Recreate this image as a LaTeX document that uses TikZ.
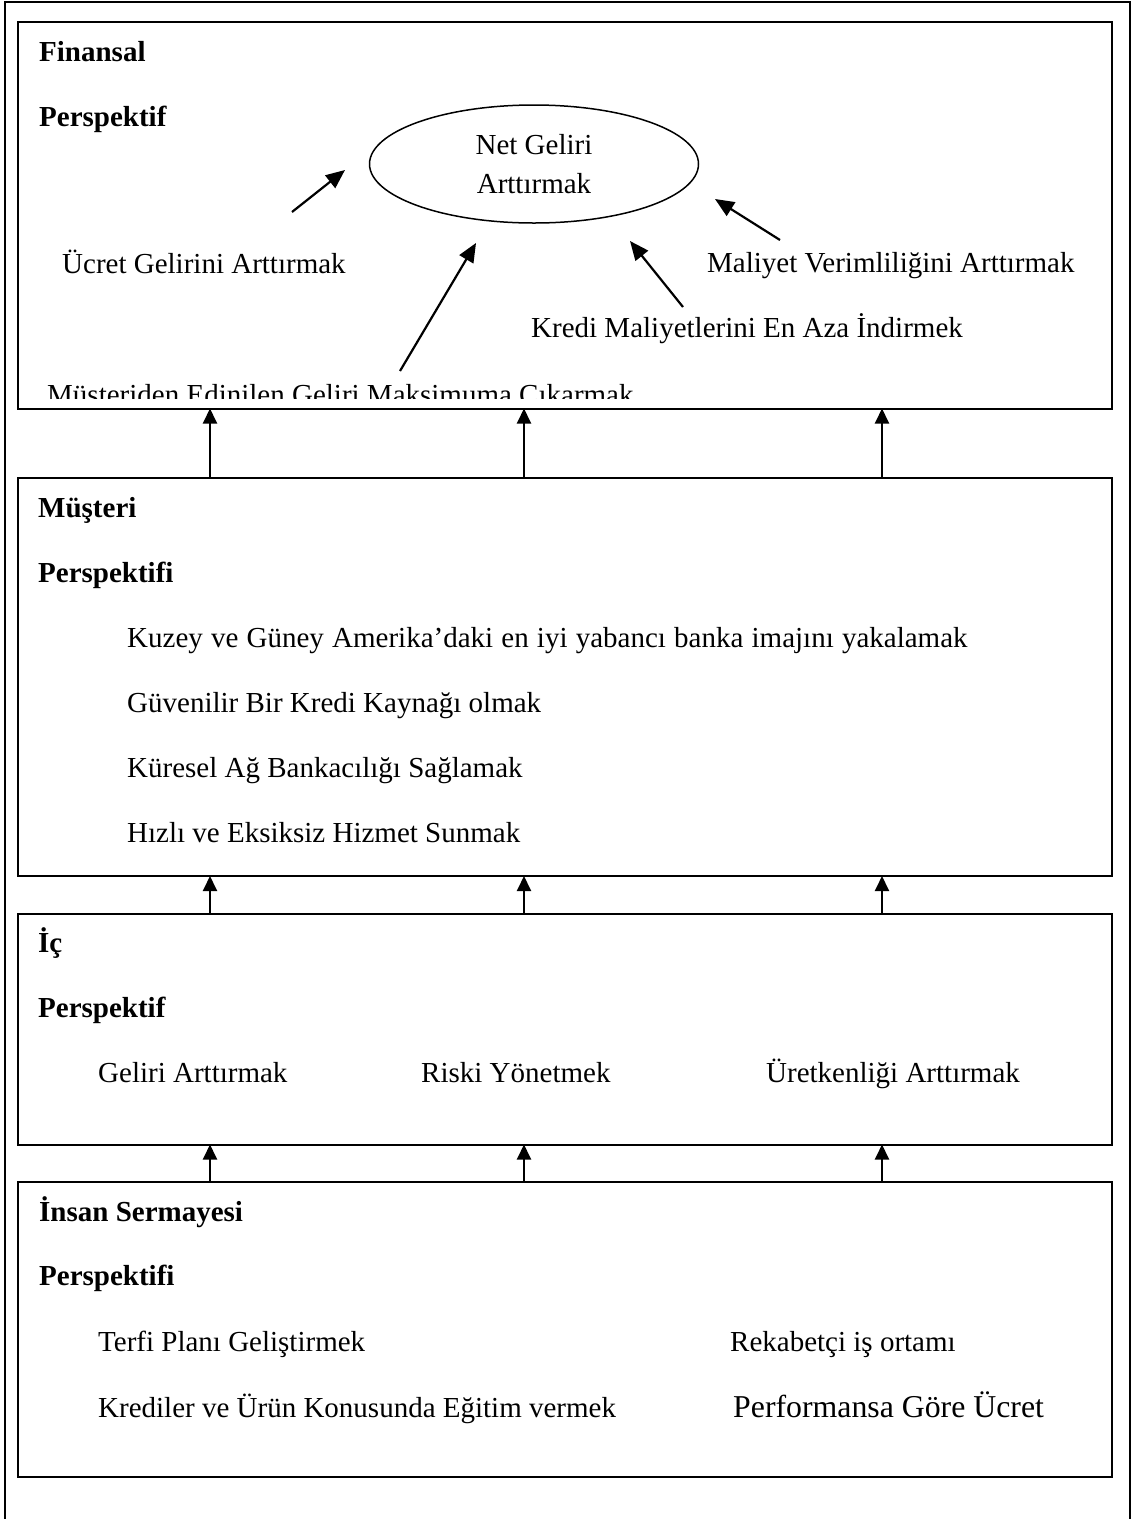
\documentclass[tikz,border=0pt]{standalone}
\usepackage{fontspec}
\setmainfont{Liberation Serif}
\usetikzlibrary{arrows.meta,shapes.geometric}
\begin{document}
\begin{tikzpicture}[x=1pt,y=-1pt,
  panel/.style={draw, line width=2pt, rectangle, inner sep=0pt, outer sep=0pt,
                anchor=north west, minimum width=1094pt},
  lbl/.style={anchor=base west, inner sep=0pt, font=\fontsize{29}{39}\selectfont},
  head/.style={anchor=base west, inner sep=0pt, font=\fontsize{29}{39}\selectfont\bfseries},
  up/.style={-{Triangle[length=15pt,width=14pt]}, line width=2pt},
  diag/.style={-{Triangle[length=19pt,width=16pt]}, line width=2.2pt},
  goal/.style={draw, ellipse, line width=1.5pt, minimum width=329pt, minimum height=118pt,
               inner sep=0pt, align=center, font=\fontsize{29}{39}\selectfont}]
\clip (0,0) rectangle (1133,1519);

% outer frame (runs past the lower edge)
\draw[line width=2pt] (5,1540) -- (5,2) -- (1130,2) -- (1130,1540);

% the four perspective panels
\node[panel, minimum height=386.5pt] (fin) at (18,22) {};
\node[panel, minimum height=398pt]   (mus) at (18,478) {};
\node[panel, minimum height=230.5pt] (ic)  at (18,914) {};
\node[panel, minimum height=295pt]   (ins) at (18,1182) {};

% columns of the upward links
\coordinate (x1) at (210,0);
\coordinate (x2) at (524,0);
\coordinate (x3) at (882,0);
\foreach \c in {x1,x2,x3}{
  \draw[up] (mus.north -| \c) -- (fin.south -| \c);
  \draw[up] (ic.north -| \c)  -- (mus.south -| \c);
  \draw[up] (ins.north -| \c) -- (ic.south -| \c);
}

% financial perspective
\node[head] (t1) at (39,61)  {Finansal};
\node[head] (t2) at (39,126) {Perspektif};
\node[goal] (net) at (534,164) {Net Geliri\\Arttırmak};
\node[lbl] (f1) at (62,273)  {Ücret Gelirini Arttırmak};
\node[lbl] (f2) at (707,272) {Maliyet Verimliliğini Arttırmak};
\node[lbl] (f3) at (531,337) {Kredi Maliyetlerini En Aza İndirmek};
\begin{scope}
  \clip (18,22) rectangle (1112,398);
  \node[lbl] (f4) at (47,404) {Müşteriden Edinilen Geliri Maksimuma Çıkarmak};
\end{scope}

\coordinate (a1s) at (292,212); \coordinate (a1e) at (345,170);
\coordinate (a2s) at (400,371); \coordinate (a2e) at (476,243);
\coordinate (a3s) at (683,307); \coordinate (a3e) at (630,241);
\coordinate (a4s) at (780,240); \coordinate (a4e) at (715,199);
\draw[diag] (a1s) -- (a1e);
\draw[diag] (a2s) -- (a2e);
\draw[diag] (a3s) -- (a3e);
\draw[diag] (a4s) -- (a4e);

% customer perspective
\node[head] (m0) at (38,517) {Müşteri};
\node[head] (m1) at (38,582) {Perspektifi};
\node[lbl] (m2) at (127,647) {\spaceskip=8.2pt Kuzey ve Güney Amerika’daki en iyi yabancı banka imajını yakalamak};
\node[lbl] (m3) at (127,712) {Güvenilir Bir Kredi Kaynağı olmak};
\node[lbl] (m4) at (127,777) {Küresel Ağ Bankacılığı Sağlamak};
\node[lbl] (m5) at (127,842) {Hızlı ve Eksiksiz Hizmet Sunmak};

% internal perspective
\node[head] (i0) at (38,952)  {İç};
\node[head] (i1) at (38,1017) {Perspektif};
\node[lbl] (i2) at (98,1082)  {Geliri Arttırmak};
\node[lbl] (i3) at (421,1082) {Riski Yönetmek};
\node[lbl] (i4) at (766,1082) {Üretkenliği Arttırmak};

% human capital perspective
\node[head] (h0) at (39,1221) {İnsan Sermayesi};
\node[head] (h1) at (39,1285) {Perspektifi};
\node[lbl] (h2) at (98,1351)  {Terfi Planı Geliştirmek};
\node[lbl] (h3) at (730,1351) {Rekabetçi iş ortamı};
\node[lbl] (h4) at (98,1417)  {Krediler ve Ürün Konusunda Eğitim vermek};
\node[lbl, font=\fontsize{31.8}{39}\selectfont] (h5) at (733,1417) {Performansa Göre Ücret};
\end{tikzpicture}
\end{document}
